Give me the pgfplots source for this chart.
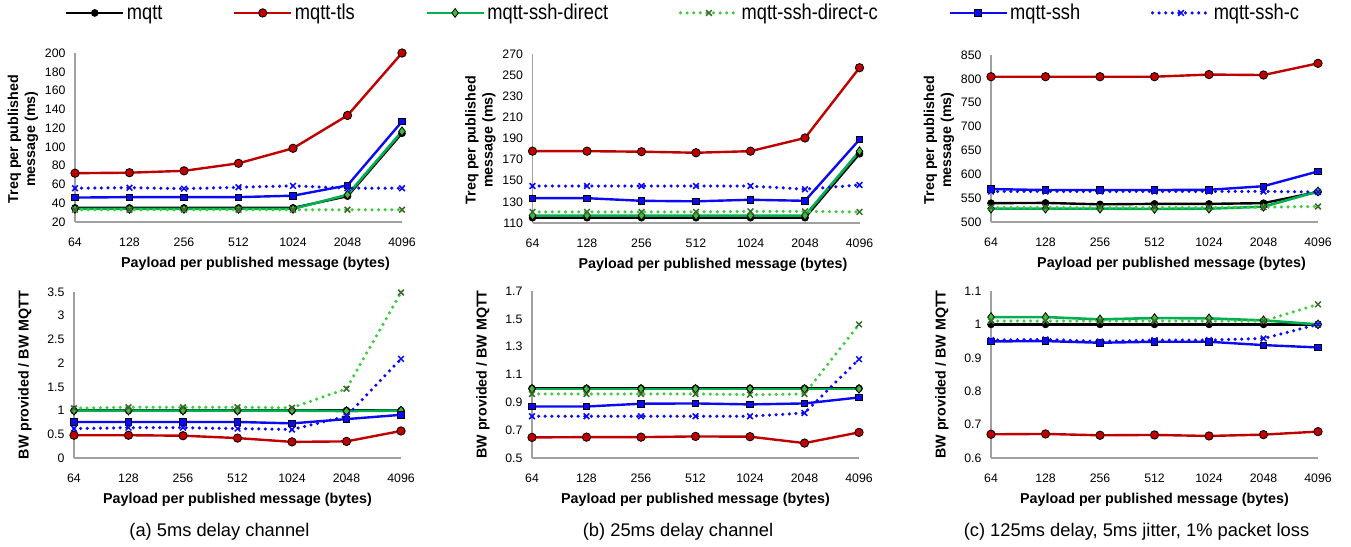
\documentclass[border=0pt]{standalone}
\usepackage{fontspec}
\setmainfont{Liberation Sans}
\newfontfamily\legfont[FakeStretch=0.85]{Liberation Sans}
\usepackage{pgfplots}
\usepackage{pgfplotstable}
\pgfplotsset{compat=1.18}
\definecolor{cred}{HTML}{C00000}
\definecolor{cgreen}{HTML}{00B050}
\definecolor{cgreenfill}{HTML}{3CBE3C}
\definecolor{cdot}{HTML}{3FCC3F}
\definecolor{cdkgreen}{HTML}{3B6B2B}
\definecolor{cblue}{HTML}{0A0AF5}
\definecolor{caxis}{HTML}{A0A0A0}

\pgfplotstableread{
x mqtt tls direct directc ssh sshc
0 35 72 34 33 46 56
1 35 72.5 34 33 46.5 56.5
2 35 74.5 34 33 46.5 55.5
3 35 82.5 34 33 46.5 57
4 35 98.5 34 33 48 58.5
5 47.5 133.5 49 33 59 56
6 114.5 200 116.5 33 127 56
}\TopA
\pgfplotstableread{
x mqtt tls direct directc ssh sshc
0 115 178 117 120.5 133.5 145
1 115 178 117 120.5 133.5 145
2 115 177.5 117 120.5 131 145
3 115 176.5 117 120.5 130.5 145
4 115 178 117 121 132 145
5 115 190.5 117 121 131 142
6 175.5 257 178 120.5 189 146
}\TopB
\pgfplotstableread{
x mqtt tls direct directc ssh sshc
0 539.5 804.5 528 530.5 569 564
1 540 804.5 528 530.5 567 564
2 537 804.5 528 530.5 567 564
3 538 804.5 527.5 530.5 567 564
4 538 809 528 530.5 567.5 564
5 539.5 808 532 531 575 564
6 563 832.5 564 532.5 606 563
}\TopC
\pgfplotstableread{
x mqtt tls direct directc ssh sshc
0 1 0.48 1.0 1.05 0.76 0.62
1 1 0.48 1.0 1.07 0.76 0.64
2 1 0.47 1.0 1.07 0.76 0.64
3 1 0.42 1.0 1.07 0.76 0.62
4 1 0.34 1.0 1.06 0.73 0.60
5 1 0.35 0.99 1.46 0.82 0.88
6 1 0.57 1.0 3.49 0.91 2.09
}\BotA
\pgfplotstableread{
x mqtt tls direct directc ssh sshc
0 1 0.648 0.997 0.96 0.87 0.80
1 1 0.65 0.997 0.96 0.87 0.80
2 1 0.65 0.997 0.96 0.89 0.80
3 1 0.655 0.997 0.96 0.892 0.80
4 1 0.653 0.997 0.955 0.885 0.80
5 1 0.607 0.997 0.96 0.892 0.823
6 1 0.684 0.997 1.46 0.935 1.21
}\BotB
\pgfplotstableread{
x mqtt tls direct directc ssh sshc
0 1 0.671 1.022 1.01 0.949 0.953
1 1 0.672 1.022 1.01 0.950 0.955
2 1 0.668 1.015 1.01 0.945 0.949
3 1 0.669 1.019 1.01 0.948 0.953
4 1 0.666 1.018 1.01 0.948 0.953
5 1 0.670 1.012 1.01 0.938 0.958
6 1 0.679 1.000 1.06 0.931 1.000
}\BotC

\pgfplotsset{
  smqtt/.style={black, line width=2.4pt, mark=*, mark size=3.4pt, mark options={fill=black, draw=black, line width=0.8pt}},
  stls/.style={cred, line width=2.4pt, mark=*, mark size=4.2pt, mark options={fill=cred, draw=black, line width=0.8pt}},
  sdirect/.style={cgreen, line width=2.6pt, mark=diamond*, mark size=4.4pt, mark options={fill=cgreenfill, draw=black, line width=0.8pt}},
  sdirectc/.style={cdot, line width=3.5pt, line cap=round, dash pattern=on 0pt off 6.6pt, mark=x, mark size=4pt, mark options={draw=cdkgreen, solid, line width=1.5pt, line cap=butt}},
  sssh/.style={cblue, line width=2.4pt, mark=square*, mark size=3.2pt, mark options={fill=cblue, draw=black, line width=0.8pt}},
  ssshc/.style={cblue, line width=3.5pt, line cap=round, dash pattern=on 0pt off 6.6pt, mark=x, mark size=4pt, mark options={draw=cblue, solid, line width=1.5pt, line cap=butt}},
  panel/.style={
    scale only axis, width=327pt,
    xmin=0, xmax=6, xtick={0,...,6},
    xticklabels={64,128,256,512,1024,2048,4096},
    axis x line*=bottom, axis y line*=left,
    axis line style={-, draw=caxis, line width=1.3pt},
    x axis line style={-}, y axis line style={-},
    major tick length=0pt, tick style={draw=none},
    tick label style={font=\fontsize{12.3}{14}\selectfont},
    /pgf/number format/assume math mode=true,
    /pgf/number format/fixed,
    xticklabel style={yshift=-12pt},
    yticklabel style={xshift=-6pt},
    xlabel={Payload per published message (bytes)},
    clip=false,
  },
  toprow/.style={panel,
    every axis x label/.style={at={(axis description cs:0.552,-0.249)}, anchor=center,
      font=\bfseries\fontsize{14.3}{17}\selectfont},
    every axis y label/.style={at={(axis description cs:-0.159,0.49)}, anchor=center, rotate=90,
      align=center, font=\bfseries\fontsize{14.3}{17}\selectfont},
    ylabel={Treq per published\\message (ms)}},
  botrow/.style={panel,
    every axis x label/.style={at={(axis description cs:0.5,-0.251)}, anchor=center,
      font=\bfseries\fontsize{14.3}{17}\selectfont},
    every axis y label/.style={at={(axis description cs:-0.150,0.5)}, anchor=center, rotate=90,
      align=center, font=\bfseries\fontsize{14.3}{17}\selectfont},
    ylabel={BW provided / BW MQTT}},
}
\newcommand{\allplots}[1]{%
  \addplot[smqtt] table[x=x,y=mqtt]{#1};
  \addplot[stls] table[x=x,y=tls]{#1};
  \addplot[sdirect] table[x=x,y=direct]{#1};
  \addplot[sdirectc] table[x=x,y=directc]{#1};
  \addplot[sssh] table[x=x,y=ssh]{#1};
  \addplot[ssshc] table[x=x,y=sshc]{#1};
}

\begin{document}
\begin{tikzpicture}
\path[use as bounding box] (0pt,0pt) rectangle (1351pt,546pt);

% top row
\begin{axis}[toprow, at={(75pt,324pt)}, anchor=south west, height=169pt,
  ymin=20, ymax=200, ytick={20,40,...,200},
  legend columns=6,
  legend image code/.code={\draw[mark repeat=2,mark phase=2] plot coordinates {(0pt,0pt) (28.5pt,0pt) (57pt,0pt)};},
  legend style={draw=none, fill=none, inner sep=0pt, at={(axis description cs:-0.031,1.237)}, anchor=west,
    font=\legfont\fontsize{21.5}{24}\selectfont, nodes={inner sep=2.5pt},
    /tikz/every even column/.append style={column sep=68pt}}]
\allplots{\TopA}
\legend{mqtt,mqtt-tls,mqtt-ssh-direct,mqtt-ssh-direct-c,mqtt-ssh,mqtt-ssh-c}
\end{axis}

\begin{axis}[toprow, at={(532.5pt,323pt)}, anchor=south west, height=169pt,
  ymin=110, ymax=270, ytick={110,130,...,270}]
\allplots{\TopB}
\end{axis}

\begin{axis}[toprow, at={(991pt,324pt)}, anchor=south west, height=167pt,
  ymin=500, ymax=850, ytick={500,550,...,850}]
\allplots{\TopC}
\end{axis}

% bottom row
\begin{axis}[botrow, at={(74pt,88pt)}, anchor=south west, height=166pt,
  ymin=0, ymax=3.5, ytick={0,0.5,...,3.5}]
\allplots{\BotA}
\end{axis}

\begin{axis}[botrow, at={(532pt,88pt)}, anchor=south west, height=167pt,
  ymin=0.5, ymax=1.7, ytick={0.5,0.7,0.9,1.1,1.3,1.5,1.7}]
\allplots{\BotB}
\end{axis}

\begin{axis}[botrow, at={(991pt,88pt)}, anchor=south west, height=167pt,
  ymin=0.6, ymax=1.1, ytick={0.6,0.7,0.8,0.9,1.0,1.1}]
\allplots{\BotC}
\end{axis}

\node[anchor=base, font=\fontsize{18.3}{20}\selectfont] at (219.5pt,9.3pt) {(a) 5ms delay channel};
\node[anchor=base, font=\fontsize{18.3}{20}\selectfont] at (678pt,9.3pt) {(b) 25ms delay channel};
\node[anchor=base, font=\fontsize{18.3}{20}\selectfont] at (1136.5pt,9.3pt) {(c) 125ms delay, 5ms jitter, 1\% packet loss};
\end{tikzpicture}
\end{document}
